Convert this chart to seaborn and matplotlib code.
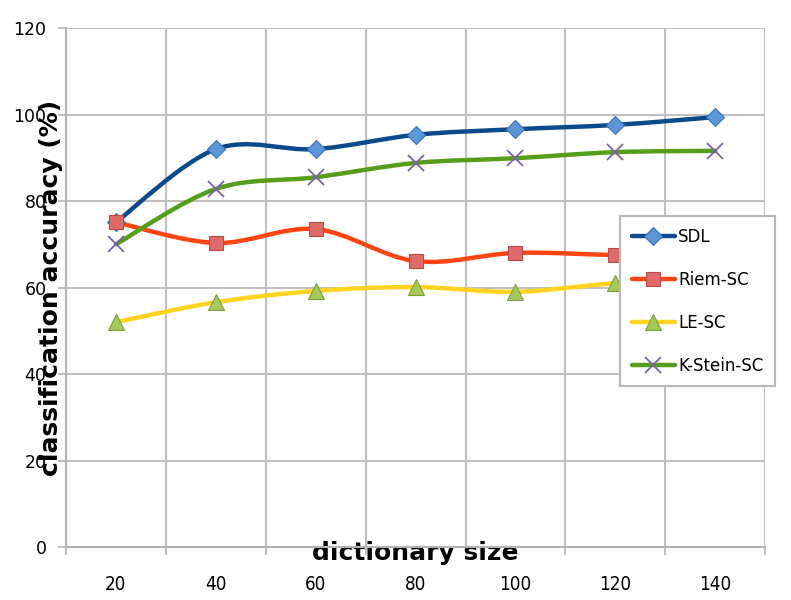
import matplotlib
matplotlib.use("Agg")
import matplotlib.pyplot as plt
import seaborn as sns
import pandas as pd
import numpy as np
from matplotlib.path import Path
from matplotlib.patches import PathPatch
from matplotlib.lines import Line2D

sizes = ["20", "40", "60", "80", "100", "120", "140"]
sdl = [75.1, 92.0, 92.0, 95.3, 96.6, 97.6, 99.4]
riem_sc = [75.1, 70.3, 73.5, 66.1, 68.0, 67.5, 67.0]
le_sc = [52.0, 56.6, 59.2, 60.1, 59.0, 61.0, 62.0]
kstein_sc = [70.0, 82.8, 85.5, 88.8, 89.9, 91.3, 91.6]
y_ticks = [0, 20, 40, 60, 80, 100, 120]

series = [
    ("SDL", sdl, "#0b4a8b", "D", "#5b96d8", "#3e74b8", 9.5),
    ("Riem-SC", riem_sc, "#ff4514", "s", "#e06a6a", "#b94a48", 10.5),
    ("LE-SC", le_sc, "#ffd320", "^", "#a6c75a", "#7f9e3c", 11),
    ("K-Stein-SC", kstein_sc, "#579d1c", "x", "#7e62a6", "#7e62a6", 12),
]

rows = []
for name, vals, *_ in series:
    for i, v in enumerate(vals):
        rows.append((name, i, v))
df = pd.DataFrame(rows, columns=["method", "pos", "acc"])


def smooth_path(xs, ys):
    # Catmull-Rom segments as cubic Bezier curves (Excel-style smoothed line)
    pts = np.column_stack([xs, ys]).astype(float)
    ext = np.vstack([pts[0], pts, pts[-1]])
    verts = [pts[0]]
    codes = [Path.MOVETO]
    for i in range(1, len(ext) - 2):
        p0, p1, p2, p3 = ext[i - 1], ext[i], ext[i + 1], ext[i + 2]
        verts += [p1 + (p2 - p0) / 6, p2 - (p3 - p1) / 6, p2]
        codes += [Path.CURVE4] * 3
    return Path(verts, codes)


sns.set_style("white")
plt.rcParams["font.family"] = ["DejaVu Sans"]
plt.rcParams["text.color"] = "black"
plt.rcParams["axes.labelcolor"] = "black"

fig = plt.figure(figsize=(7.91, 6.0), dpi=100)
ax = fig.add_axes([0.0834, 0.0883, 0.884, 0.865])

handles = []
for name, vals, lc, mk, mfc, mec, ms in series:
    sub = df[df["method"] == name]
    ax.add_patch(PathPatch(smooth_path(sub["pos"], sub["acc"]), fill=False,
                           edgecolor=lc, lw=3.2, zorder=3, capstyle="round"))
    mew = 1.3 if mk == "x" else 0.8
    sns.lineplot(data=sub, x="pos", y="acc", ax=ax, lw=0, marker=mk,
                 markersize=ms, markerfacecolor=mfc, markeredgecolor=mec,
                 markeredgewidth=mew, zorder=4, legend=False)
    handles.append(Line2D([], [], color=lc, lw=3.2, marker=mk, markersize=ms,
                          markerfacecolor=mfc, markeredgecolor=mec,
                          markeredgewidth=mew))

ax.set_xlim(-0.5, len(sizes) - 0.5)
ax.set_ylim(0, 120)
ax.set_yticks(y_ticks)
ax.set_yticklabels([str(t) for t in y_ticks], fontsize=12.5)
ax.set_xticks(np.arange(-0.5, len(sizes)), minor=False)
ax.set_xticklabels([])
ax.set_xticks(np.arange(len(sizes)), minor=True)
ax.set_xticklabels(sizes, minor=True, fontsize=13.5, fontstretch="condensed")
ax.tick_params(axis="x", which="major", direction="out", length=6, width=1.2,
               color="#b3b3b3", bottom=True)
ax.tick_params(axis="x", which="minor", length=0, pad=20, labelcolor="black")
ax.tick_params(axis="y", direction="out", length=6, width=1.2, color="#b3b3b3",
               left=True, pad=8, labelcolor="black")

ax.grid(True, which="major", color="#c0c0c0", lw=1.5)
for side in ["top", "right"]:
    ax.spines[side].set_visible(False)
for side in ["left", "bottom"]:
    ax.spines[side].set_color("#b3b3b3")
    ax.spines[side].set_linewidth(1.5)

ax.set_xlabel("dictionary size", fontsize=18, fontweight="bold", color="black")
ax.xaxis.set_label_coords(0.5, 0.012)
ax.xaxis.label.set_va("top")
ax.set_ylabel("classification accuracy (%)", fontsize=18, fontweight="bold",
              color="black")
ax.yaxis.set_label_coords(-0.004, 0.5)

leg = fig.legend(handles, [s[0] for s in series], loc="upper left",
                 bbox_to_anchor=(620 / 791, 1 - 216 / 600),
                 prop={"family": "DejaVu Sans", "size": 12},
                 frameon=True, fancybox=False, edgecolor="#b8b8b8",
                 framealpha=1, facecolor="white", labelcolor="black",
                 borderpad=0.7, labelspacing=1.5, handlelength=2.6,
                 handletextpad=0.2, borderaxespad=0)
leg.get_frame().set_linewidth(1.5)
leg.set_zorder(10)

fig.savefig("out.png", dpi=100, facecolor="white")
